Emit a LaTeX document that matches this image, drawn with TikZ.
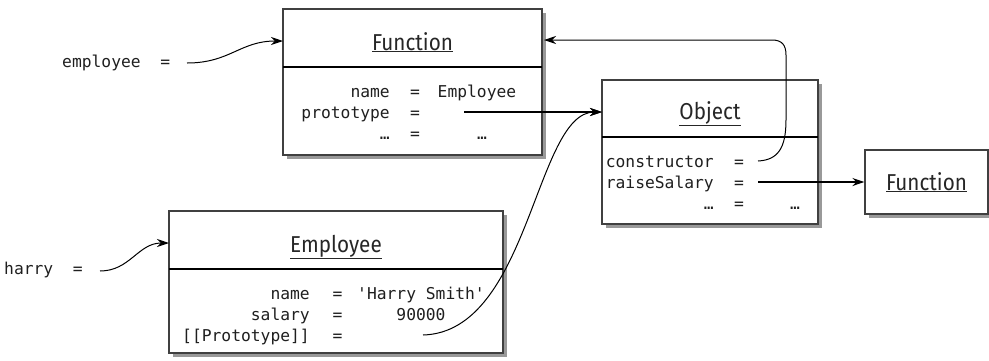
\documentclass[tikz,border=0pt]{standalone}
\usepackage{fontspec}
\setmonofont{DejaVu Sans Mono}
\newfontfamily\titlefont[FakeStretch=0.9]{Fira Sans}
\usetikzlibrary{arrows.meta,shadows}
\begin{document}
\begin{tikzpicture}[x=1pt,y=-1pt,
  box/.style={draw=black!75, line width=1.2pt, fill=white, inner sep=0pt,
    drop shadow={shadow xshift=4pt, shadow yshift=-4pt, fill=black!40, opacity=1}},
  divider/.style={line width=2pt, black},
  title/.style={font=\titlefont\fontsize{23}{23}\selectfont, anchor=base, inner sep=0pt, text=black!85},
  code/.style={font=\ttfamily\fontsize{16.3}{16.3}\selectfont, inner sep=0pt, text=black!88},
  lc/.style={code, anchor=base east},
  eq/.style={code, anchor=base},
  rc/.style={code, anchor=base},
  link/.style={line width=1pt, black, -{Stealth[length=12pt,width=8pt]}},
  boldlink/.style={line width=1.7pt, black, -{Stealth[length=12pt,width=8pt]}},
]
\useasboundingbox (0,0) rectangle (989,360);

% boxes
\node[box, minimum width=259pt, minimum height=146pt] (f1) at (412.5,82) {};
\node[box, minimum width=216pt, minimum height=144pt] (obj) at (710,152) {};
\node[box, minimum width=123pt, minimum height=64pt] (f2) at (926.5,182) {};
\node[box, minimum width=334pt, minimum height=142pt] (emp) at (336,282) {};

% dividers
\draw[divider] (283,67) -- (542,67);
\draw[divider] (602,137) -- (818,137);
\draw[divider] (169,269) -- (503,269);

% titles
\node[title] (f1t) at (412.5,50) {\underline{Function}};
\node[title] (objt) at (710,119) {\underline{Object}};
\node[title] (f2t) at (926.5,190) {\underline{Function}};
\node[title] (empt) at (336,252) {\underline{Employee}};

% Function rows
\node[lc] (f1k1) at (390,97) {name};
\node[eq] (f1e1) at (415,97) {=};
\node[rc] (f1v1) at (477,97) {Employee};
\node[lc] (f1k2) at (390,118) {prototype};
\node[eq] (f1e2) at (415,118) {=};
\node[lc] (f1k3) at (390,139) {…};
\node[eq] (f1e3) at (415,139) {=};
\node[rc] (f1v3) at (482,139) {…};

% Object rows
\node[lc] (ok1) at (714,167) {constructor};
\node[eq] (oe1) at (739,167) {=};
\node[lc] (ok2) at (714,188) {raiseSalary};
\node[eq] (oe2) at (739,188) {=};
\node[lc] (ok3) at (714,209) {…};
\node[eq] (oe3) at (739,209) {=};
\node[rc] (ov3) at (795,209) {…};

% Employee rows
\node[lc] (ek1) at (310,299) {name};
\node[eq] (ee1) at (337.5,299) {=};
\node[rc] (ev1) at (421,299) {'Harry Smith'};
\node[lc] (ek2) at (310,320) {salary};
\node[eq] (ee2) at (337.5,320) {=};
\node[rc] (ev2) at (421,320) {90000};
\node[lc] (ek3) at (310,341) {[[Prototype]]};
\node[eq] (ee3) at (337.5,341) {=};

% variables
\node[code, anchor=base west] (empvar) at (62,67) {employee~~=};
\node[code, anchor=base west] (harvar) at (4,274) {harry~~=};

% connector end points
\coordinate (empout) at (187,63);
\coordinate (f1in) at (283,41);
\coordinate (harout) at (100,271);
\coordinate (empin) at (169,243);
\coordinate (protout) at (464,112);
\coordinate (objin) at (602,112);
\coordinate (eprotout) at (423,335);
\coordinate (consout) at (758,161);
\coordinate (f1back) at (544,40);
\coordinate (raiseout) at (758,182);

% connectors
\draw[link] (empout) .. controls (230,63) and (240,41) .. (f1in);
\draw[link] (harout) .. controls (130,271) and (138,243) .. (empin);
\draw[boldlink] (protout) -- (objin);
\draw[link] (eprotout) .. controls (530,332) and (535,112) .. (objin);
\draw[link] (consout) .. controls (778,160) and (786,148) .. (786,120)
  -- (786,55) .. controls (786,45) and (782,40) .. (772,40) -- (f1back);
\draw[boldlink] (raiseout) -- (f2.west);
\end{tikzpicture}
\end{document}
